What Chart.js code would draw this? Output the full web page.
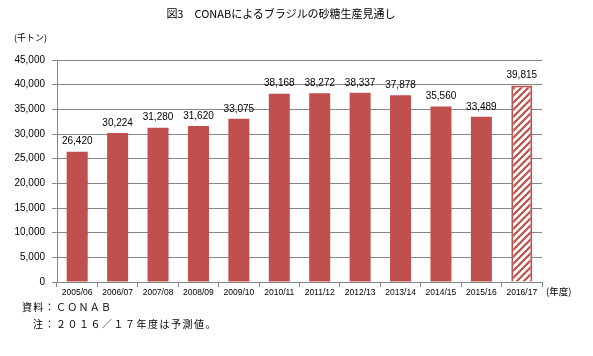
<!DOCTYPE html>
<html><head><meta charset="utf-8">
<script src="https://cdn.jsdelivr.net/npm/chart.js@4"></script>
<style>
html,body{margin:0;padding:0;background:#fff;}
#wrap{position:relative;width:593px;height:356px;overflow:hidden;}
#c{position:absolute;left:0;top:0;}
.t{position:absolute;white-space:nowrap;color:#000;font-family:"Noto Sans CJK JP","Noto Sans",sans-serif;line-height:1;}
</style></head><body>
<div id="wrap">
<canvas id="c" width="593" height="356"></canvas>
<div class="t" id="title" style="left:0;width:562px;text-align:center;top:8px;font-size:11px;">図3　CONABによるブラジルの砂糖生産見通し</div>
<div class="t" style="left:14px;top:33px;font-size:9px;">(千トン)</div>
<div class="t" style="left:546px;top:287px;font-size:9.5px;">(年度)</div>
<div class="t" style="left:22px;top:302px;font-size:10px;letter-spacing:1.3px;">資料：ＣＯＮＡＢ</div>
<div class="t" style="left:33px;top:319px;font-size:10px;letter-spacing:1.5px;">注：２０１６／１７年度は予測値。</div>
</div>
<script>
const categories = ["2005/06","2006/07","2007/08","2008/09","2009/10","2010/11","2011/12","2012/13","2013/14","2014/15","2015/16","2016/17"];
const production = [26420,30224,31280,31620,33075,38168,38272,38337,37878,35560,33489,39815];
const forecastFlags = [false,false,false,false,false,false,false,false,false,false,false,true];
const yTicks = [0,5000,10000,15000,20000,25000,30000,35000,40000,45000];

const RED = "#C0504D";
function makeHatch(){
  const s = 7;
  const cv = document.createElement("canvas");
  cv.width = s; cv.height = s;
  const g = cv.getContext("2d");
  g.fillStyle = "#fff"; g.fillRect(0,0,s,s);
  g.strokeStyle = RED; g.lineWidth = 2.2;
  g.beginPath();
  g.moveTo(-1, s+1); g.lineTo(s+1, -1);
  g.moveTo(-1-s, s+1); g.lineTo(1, -1);
  g.moveTo(s-1, s+1); g.lineTo(2*s+1, -1);
  g.stroke();
  return g.createPattern(cv, "repeat");
}
const ctx = document.getElementById("c").getContext("2d");
const hatch = makeHatch();

const labelPlugin = {
  id: "valueLabels",
  afterDatasetsDraw(chart){
    const c = chart.ctx;
    const meta = chart.getDatasetMeta(0);
    c.save();
    c.font = "10px 'Liberation Sans', Arial, sans-serif";
    c.fillStyle = "#000";
    c.textAlign = "center";
    c.textBaseline = "bottom";
    meta.data.forEach((el, i) => {
      c.fillText(production[i].toLocaleString("en-US"), el.x, el.y - 5);
    });
    c.restore();
  }
};

new Chart(ctx, {
  type: "bar",
  data: {
    labels: categories,
    datasets: [{
      data: production,
      backgroundColor: forecastFlags.map(f => f ? hatch : RED),
      borderColor: RED,
      borderWidth: forecastFlags.map(f => f ? 2 : 0),
      barPercentage: 0.52,
      categoryPercentage: 1.0
    }]
  },
  options: {
    responsive: false,
    animation: false,
    devicePixelRatio: 1,
    layout: { padding: { left: 0, right: 51, top: 60, bottom: 0 } },
    plugins: { legend: { display: false }, title: { display: false }, tooltip: { enabled: false } },
    scales: {
      x: {
        grid: { display: true, drawOnChartArea: false, offset: true, color: "#868686", tickLength: 5 },
        border: { color: "#868686", width: 1 },
        ticks: { color: "#000", font: { size: 8.5, family: "'Liberation Sans', Arial, sans-serif" }, padding: 1, maxRotation: 0, autoSkip: false },
        afterFit(s){ s.height = 74; }
      },
      y: {
        min: 0, max: 45000,
        afterBuildTicks(s){ s.ticks = yTicks.map(v => ({ value: v })); },
        grid: { color: "#868686", tickLength: 5 },
        border: { color: "#868686", width: 1 },
        ticks: { color: "#000", padding: 7, font: { size: 10, family: "'Liberation Sans', Arial, sans-serif" },
          callback: v => Number(v).toLocaleString("en-US") },
        afterFit(s){ s.width = 57; }
      }
    }
  },
  plugins: [labelPlugin]
});
</script>
</body></html>
